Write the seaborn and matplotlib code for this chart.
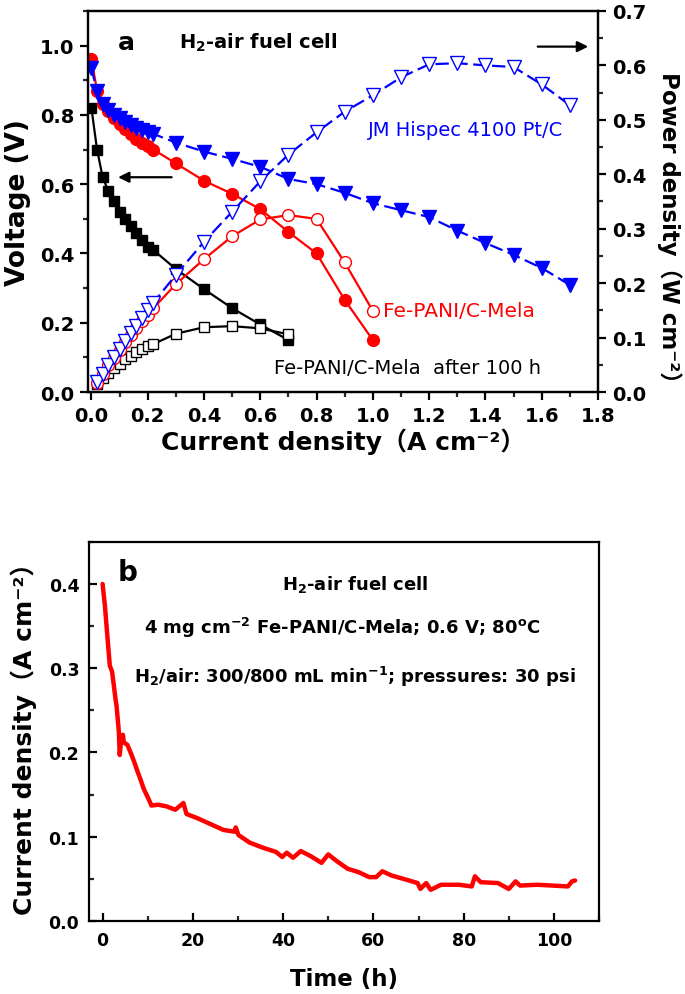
import matplotlib
matplotlib.use("Agg")
import matplotlib.pyplot as plt
from matplotlib.ticker import MultipleLocator, FormatStrFormatter
import seaborn as sns

# ---- panel a: polarization + power density ----
j_pt = [0.0, 0.02, 0.04, 0.06, 0.08, 0.10, 0.12, 0.14, 0.16, 0.18, 0.20, 0.22,
        0.3, 0.4, 0.5, 0.6, 0.7, 0.8, 0.9, 1.0, 1.1, 1.2, 1.3, 1.4, 1.5, 1.6, 1.7]
v_pt = [0.935, 0.868, 0.83, 0.815, 0.80, 0.79, 0.78, 0.77, 0.762, 0.755, 0.75, 0.745,
        0.72, 0.694, 0.673, 0.65, 0.615, 0.60, 0.575, 0.545, 0.525, 0.505, 0.466, 0.43,
        0.396, 0.358, 0.309]
p_pt = [None, 0.018, 0.034, 0.049, 0.064, 0.079, 0.094, 0.108, 0.122, 0.136, 0.150, 0.164,
        0.215, 0.276, 0.331, 0.387, 0.436, 0.477, 0.515, 0.545, 0.578, 0.602, 0.604, 0.600,
        0.597, 0.565, 0.527]

j_fe = [0.0, 0.02, 0.04, 0.06, 0.08, 0.10, 0.12, 0.14, 0.16, 0.18, 0.20, 0.22,
        0.3, 0.4, 0.5, 0.6, 0.7, 0.8, 0.9, 1.0]
v_fe = [0.962, 0.87, 0.83, 0.81, 0.79, 0.775, 0.76, 0.745, 0.73, 0.72, 0.71, 0.70,
        0.66, 0.61, 0.572, 0.528, 0.462, 0.40, 0.266, 0.15]
p_fe = [None, 0.017, 0.033, 0.049, 0.063, 0.078, 0.091, 0.104, 0.117, 0.130, 0.142, 0.154,
        0.198, 0.244, 0.286, 0.317, 0.325, 0.318, 0.238, 0.149]

j_100h = [0.0, 0.02, 0.04, 0.06, 0.08, 0.10, 0.12, 0.14, 0.16, 0.18, 0.20, 0.22,
          0.3, 0.4, 0.5, 0.6, 0.7]
v_100h = [0.82, 0.70, 0.62, 0.58, 0.55, 0.52, 0.50, 0.48, 0.46, 0.44, 0.42, 0.41,
          0.355, 0.297, 0.242, 0.195, 0.15]
p_100h = [None, 0.014, 0.025, 0.035, 0.044, 0.052, 0.060, 0.067, 0.074, 0.079, 0.084, 0.088,
          0.107, 0.119, 0.121, 0.117, 0.106]

# ---- panel b: durability at 0.6 V ----
time_h = [0.0, 0.5, 1.0, 1.6, 2.1, 2.9, 3.1, 3.6, 3.8, 4.1, 4.5, 4.7, 5.5, 6.2, 7.0, 7.7,
          8.4, 9.1, 9.9, 10.6, 10.8, 12.3, 14.2, 16.1, 17.9, 18.6, 21.0, 23.9, 26.8, 29.2,
          29.5, 30.1, 32.6, 35.5, 38.4, 39.8, 40.8, 42.2, 43.9, 46.1, 48.5, 50.0, 51.9,
          54.3, 56.7, 59.1, 60.6, 62.0, 64.0, 67.3, 69.8, 70.4, 71.7, 72.7, 75.0, 78.9,
          81.8, 82.5, 83.8, 87.6, 90.0, 91.5, 92.5, 96.3, 103.1, 104.0, 104.7]
current = [0.40, 0.375, 0.342, 0.303, 0.296, 0.262, 0.255, 0.225, 0.197, 0.215, 0.221,
           0.212, 0.209, 0.200, 0.189, 0.178, 0.168, 0.157, 0.148, 0.140, 0.137, 0.138,
           0.136, 0.132, 0.140, 0.127, 0.122, 0.115, 0.108, 0.106, 0.111, 0.102, 0.093,
           0.087, 0.082, 0.076, 0.081, 0.075, 0.083, 0.077, 0.069, 0.079, 0.071, 0.062,
           0.058, 0.052, 0.052, 0.059, 0.054, 0.049, 0.045, 0.038, 0.045, 0.037, 0.043,
           0.043, 0.041, 0.053, 0.046, 0.045, 0.038, 0.047, 0.042, 0.043, 0.041, 0.047,
           0.048]

sns.set_theme(style="ticks")
plt.rcParams["font.family"] = ["DejaVu Sans", "Noto Sans CJK SC"]
plt.rcParams["font.weight"] = "bold"
plt.rcParams["axes.labelweight"] = "bold"
plt.rcParams["mathtext.default"] = "regular"
plt.rcParams["axes.linewidth"] = 1.6
plt.rcParams["axes.edgecolor"] = "black"
plt.rcParams["text.color"] = "black"
plt.rcParams["axes.labelcolor"] = "black"

BLUE = "#0000ff"
RED = "#ff0000"

fig = plt.figure(figsize=(6.85, 9.95), dpi=100)
ax = fig.add_axes([0.1285, 0.605, 0.7445, 0.383])
ax2 = ax.twinx()

def curve(axis, x, y, color, marker, filled, ls="-", ms=8):
    pts = [(a, b) for a, b in zip(x, y) if b is not None]
    xs = [p[0] for p in pts]
    ys = [p[1] for p in pts]
    sns.lineplot(x=xs, y=ys, ax=axis, color=color, marker=marker, markersize=ms,
                 markeredgecolor=color, markerfacecolor=color if filled else "white",
                 markeredgewidth=1.0, linewidth=1.6, linestyle=ls, sort=False,
                 estimator=None)

curve(ax, j_100h, v_100h, "black", "s", True, ms=7.5)
curve(ax, j_fe, v_fe, RED, "o", True, ms=8.5)
curve(ax, j_pt, v_pt, BLUE, "v", True, ls=(0, (6, 2.5)), ms=10)
curve(ax2, j_100h, p_100h, "black", "s", False, ms=7.5)
curve(ax2, j_fe, p_fe, RED, "o", False, ms=8.5)
curve(ax2, j_pt, p_pt, BLUE, "v", False, ls=(0, (6, 2.5)), ms=10)

ax.set_xlim(-0.012, 1.8)
ax.set_ylim(0, 1.1)
ax2.set_ylim(0, 0.7)
ax.xaxis.set_major_locator(MultipleLocator(0.2))
ax.xaxis.set_minor_locator(MultipleLocator(0.1))
ax.yaxis.set_major_locator(MultipleLocator(0.2))
ax.yaxis.set_minor_locator(MultipleLocator(0.1))
ax2.yaxis.set_major_locator(MultipleLocator(0.1))
ax2.yaxis.set_minor_locator(MultipleLocator(0.05))
ax.xaxis.set_major_formatter(FormatStrFormatter("%.1f"))
ax.yaxis.set_major_formatter(FormatStrFormatter("%.1f"))
ax2.yaxis.set_major_formatter(FormatStrFormatter("%.1f"))
for a in (ax, ax2):
    a.tick_params(which="major", direction="out", length=6, width=1.6, labelsize=14,
                  colors="black", pad=4)
    a.tick_params(which="minor", direction="out", length=3.5, width=1.6)
ax.tick_params(which="both", top=False, right=False)
ax2.tick_params(which="both", left=False, right=True)
for s in ("top", "right", "left", "bottom"):
    ax.spines[s].set_visible(True)
    ax2.spines[s].set_visible(True)
    ax2.spines[s].set_linewidth(1.6)

ax.set_xlabel("Current density（A cm⁻²）", fontsize=18, labelpad=2)
ax.set_ylabel("Voltage (V)", fontsize=19, labelpad=6)
ax2.set_ylabel("Power density（W cm⁻²）", fontsize=16.5, rotation=270, va="center",
               ha="center")
ax2.yaxis.set_label_coords(1.14, 0.42)

ax.text(0.125, 1.01, "a", fontsize=18, va="center", ha="center")
ax.text(0.313, 1.01, "H$_2$-air fuel cell", fontsize=14, va="center", ha="left")
ax.text(0.982, 0.758, "JM Hispec 4100 Pt/C", fontsize=14, color=BLUE, fontweight="normal",
        va="center", ha="left")
ax.text(1.035, 0.236, "Fe-PANI/C-Mela", fontsize=14.5, color=RED, fontweight="normal",
        va="center", ha="left")
ax.text(0.648, 0.072, "Fe-PANI/C-Mela  after 100 h", fontsize=14, color="black",
        fontweight="normal", va="center", ha="left")
arrow = dict(arrowstyle="-|>", color="black", lw=1.6, mutation_scale=16)
ax.annotate("", xy=(0.085, 0.62), xytext=(0.295, 0.62), arrowprops=arrow)
ax.annotate("", xy=(1.775, 0.997), xytext=(1.576, 0.997), arrowprops=arrow)

# ---- panel b ----
axb = fig.add_axes([0.130, 0.0734, 0.7445, 0.381])
sns.lineplot(x=time_h, y=current, ax=axb, color=RED, linewidth=3.2, sort=False,
             estimator=None)
axb.set_xlim(-3, 110)
axb.set_ylim(0, 0.45)
axb.xaxis.set_major_locator(MultipleLocator(20))
axb.xaxis.set_minor_locator(MultipleLocator(10))
axb.yaxis.set_major_locator(MultipleLocator(0.1))
axb.yaxis.set_minor_locator(MultipleLocator(0.05))
axb.yaxis.set_major_formatter(FormatStrFormatter("%.1f"))
axb.tick_params(which="major", direction="in", length=6, width=1.6, labelsize=12.5,
                colors="black", pad=7)
axb.tick_params(which="minor", direction="in", length=3.5, width=1.6)
for s in ("top", "right"):
    axb.spines[s].set_visible(True)
axb.set_xlabel("Time (h)", fontsize=16.5, labelpad=13)
axb.set_ylabel("Current density（A cm⁻²）", fontsize=18, labelpad=8)

axb.text(5.5, 0.414, "b", fontsize=20, va="center", ha="center")
axb.text(56, 0.40, "H$_2$-air fuel cell", fontsize=13, va="center", ha="center")
axb.text(53, 0.349, "4 mg cm$^{-2}$ Fe-PANI/C-Mela; 0.6 V; 80$^{o}$C", fontsize=13,
         va="center", ha="center")
axb.text(56, 0.291, "H$_2$/air: 300/800 mL min$^{-1}$; pressures: 30 psi", fontsize=13,
         va="center", ha="center")

fig.savefig("out.png", dpi=100)
